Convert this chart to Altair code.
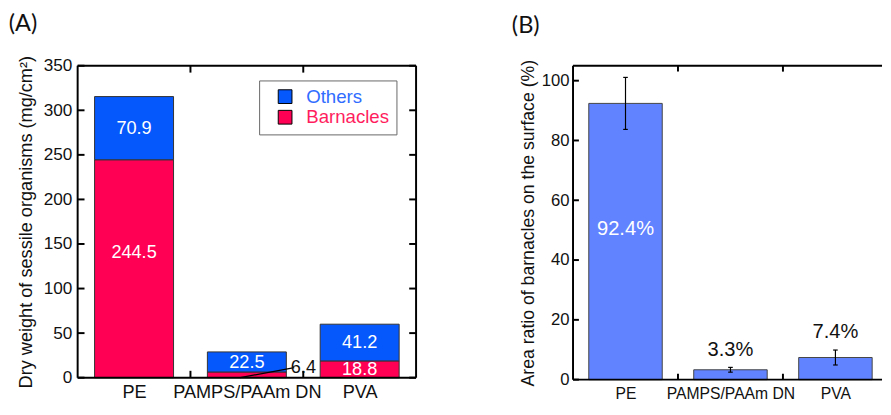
import json
import altair as alt
import pandas as pd

# ---------------- data ----------------
materials = ["PE", "PAMPS/PAAm DN", "PVA"]
barnacles = [244.5, 6.4, 18.8]
others = [70.9, 22.5, 41.2]
area_ratio = [92.4, 3.3, 7.4]
area_err = [8.7, 0.8, 2.5]
weight_ticks = [0, 50, 100, 150, 200, 250, 300, 350]
ratio_ticks = [0, 20, 40, 60, 80, 100]
boundaries = [0.5, 1.5]
groups = ["Others", "Barnacles"]

FONT = "Liberation Sans"
BLUE = "#0558fb"
RED = "#ff0055"
BBLUE = "#6283ff"
INK = "#111111"

pos = list(range(len(materials)))
label_expr = json.dumps(materials) + "[datum.value]"

rows = []
for i, m in enumerate(materials):
    rows.append({"pos": i, "material": m, "group": "Barnacles",
                 "value": barnacles[i], "start": 0.0, "end": barnacles[i]})
    rows.append({"pos": i, "material": m, "group": "Others",
                 "value": others[i], "start": barnacles[i], "end": barnacles[i] + others[i]})
dfA = pd.DataFrame(rows)
dfB = pd.DataFrame({"pos": pos, "material": materials, "ratio": area_ratio, "err": area_err})
dfWT = pd.DataFrame({"t": weight_ticks})
dfRT = pd.DataFrame({"t": ratio_ticks})
dfBd = pd.DataFrame({"b": boundaries})

# ---------------- shared axes ----------------
def x_axis(fs, pad):
    return alt.Axis(values=pos, labelExpr=label_expr, title=None, ticks=False,
                    domain=False, grid=False, labelFontSize=fs, labelPadding=pad,
                    labelFlush=False, labelOverlap=False, labelBound=False)

axXA = x_axis(18.5, 5)
axYA = alt.Axis(values=weight_ticks, title="Dry weight of sessile organisms (mg/cm²)",
                ticks=False, domain=False, grid=False, labelFontSize=17.5,
                labelPadding=6, titleFontSize=18.5, titlePadding=8, labelFlush=False)
axXB = x_axis(16, 6)
axYB = alt.Axis(values=ratio_ticks, title="Area ratio of barnacles on the surface (%)",
                ticks=False, domain=False, grid=False, labelFontSize=17,
                labelPadding=4, titleFontSize=18, titlePadding=4, labelFlush=False)

def yticks(df, scale, axis, w, length, right=True):
    out = [alt.Chart(df).mark_rule(color="black", strokeWidth=2).encode(
        y=alt.Y("t:Q", scale=scale, axis=axis), x=alt.value(0), x2=alt.value(length))]
    if right:
        out.append(alt.Chart(df).mark_rule(color="black", strokeWidth=2).encode(
            y=alt.Y("t:Q", scale=scale, axis=axis), x=alt.value(w - length), x2=alt.value(w)))
    return out

def xticks(scale, axis, h, length):
    top = alt.Chart(dfBd).mark_rule(color="black", strokeWidth=2).encode(
        x=alt.X("b:Q", scale=scale, axis=axis), y=alt.value(0), y2=alt.value(length))
    bot = alt.Chart(dfBd).mark_rule(color="black", strokeWidth=2).encode(
        x=alt.X("b:Q", scale=scale, axis=axis), y=alt.value(h - length), y2=alt.value(h))
    return [top, bot]

def frame(w, h, right=True):
    src = alt.Chart(dfBd.head(1))
    parts = [
        src.mark_rule(color="black", strokeWidth=2).encode(x=alt.value(0), x2=alt.value(w), y=alt.value(0)),
        src.mark_rule(color="black", strokeWidth=2).encode(x=alt.value(0), x2=alt.value(w), y=alt.value(h)),
        src.mark_rule(color="black", strokeWidth=2).encode(x=alt.value(0), y=alt.value(0), y2=alt.value(h)),
    ]
    if right:
        parts.append(src.mark_rule(color="black", strokeWidth=2).encode(
            x=alt.value(w), y=alt.value(0), y2=alt.value(h)))
    return parts

# ---------------- panel A ----------------
WA, HA = 345, 318
xA = alt.Scale(domain=[-0.5, 2.5], nice=False, zero=False)
yA = alt.Scale(domain=[0, 350], nice=False, zero=False)

baseA = alt.Chart(dfA).transform_calculate(
    x0="datum.pos - 0.35", x1="datum.pos + 0.35", mid="datum.start + datum.value / 2"
)

barsA = baseA.mark_bar(stroke="#333333", strokeWidth=1).encode(
    x=alt.X("x0:Q", scale=xA, axis=axXA),
    x2="x1:Q",
    y=alt.Y("start:Q", scale=yA, axis=axYA),
    y2="end:Q",
    color=alt.Color("group:N", scale=alt.Scale(domain=groups, range=[BLUE, RED]),
                    legend=alt.Legend(
                        title=None, orient="none", legendX=185, legendY=15,
                        direction="vertical",
                        strokeColor="#666666", fillColor="white", padding=7,
                        symbolType="square", symbolSize=196, symbolStrokeColor="black",
                        symbolStrokeWidth=1, symbolOffset=10, labelOffset=12,
                        labelFontSize=19, labelFont=FONT, rowPadding=1,
                        labelColor=alt.ExprRef(expr="datum.label === 'Others' ? '#2f6cff' : '#ff1d5e'"))),
)

def txtA(data, **kw):
    return data.mark_text(font=FONT, fontSize=18.5, baseline="middle", **kw)

txt_others = txtA(baseA.transform_filter("datum.group === 'Others'"), color="white").encode(
    x=alt.X("pos:Q", scale=xA, axis=axXA), y=alt.Y("mid:Q", scale=yA, axis=axYA),
    text=alt.Text("value:Q", format=".1f"))

txt_barn_mid = txtA(baseA.transform_filter(
    "datum.group === 'Barnacles' && datum.value > 10 && datum.value < 100"), color="white").encode(
    x=alt.X("pos:Q", scale=xA, axis=axXA), y=alt.Y("mid:Q", scale=yA, axis=axYA),
    text=alt.Text("value:Q", format=".1f"))

txt_barn_big = txtA(baseA.transform_filter(
    "datum.group === 'Barnacles' && datum.value >= 100"), color="white", dy=-17).encode(
    x=alt.X("pos:Q", scale=xA, axis=axXA), y=alt.Y("mid:Q", scale=yA, axis=axYA),
    text=alt.Text("value:Q", format=".1f"))

small = baseA.transform_filter("datum.group === 'Barnacles' && datum.value <= 10").transform_calculate(
    lx="datum.pos + 0.39", ly="datum.value + 6",
    lx0="datum.pos - 0.06", ly0="0", lx1="datum.pos + 0.42", ly1="datum.value + 5")

leader = small.mark_rule(color="black", strokeWidth=1.3).encode(
    x=alt.X("lx0:Q", scale=xA, axis=axXA), y=alt.Y("ly0:Q", scale=yA, axis=axYA),
    x2="lx1:Q", y2="ly1:Q")
txt_small = txtA(small, color=INK, align="left").encode(
    x=alt.X("lx:Q", scale=xA, axis=axXA), y=alt.Y("ly:Q", scale=yA, axis=axYA),
    text=alt.Text("value:Q", format=".1f"))

panelA = alt.layer(
    barsA, txt_others, txt_barn_mid, txt_barn_big, leader, txt_small,
    *yticks(dfWT, yA, axYA, WA, 7), *xticks(xA, axXA, HA, 7), *frame(WA, HA)
).properties(
    width=WA, height=HA,
    title=alt.TitleParams("(A)", anchor="start", frame="bounds", font="Lato", fontSize=24,
                          fontWeight="normal", color=INK, offset=20, dx=-8),
)

# ---------------- panel B ----------------
# the reference crops panel B at the right edge of the picture
STEP_B = 107
WB, HB = 315, 320
xB = alt.Scale(domain=[-0.5, -0.5 + WB / STEP_B], nice=False, zero=False)
yB = alt.Scale(domain=[0, 105], nice=False, zero=False)

baseB = alt.Chart(dfB).transform_calculate(
    x0="datum.pos - 0.35", x1="datum.pos + 0.35", base="0",
    lo="datum.ratio - datum.err", hi="datum.ratio + datum.err",
    c0="datum.pos - 0.022", c1="datum.pos + 0.022", half="datum.ratio / 2",
    label="format(datum.ratio, '.1f') + '%'")

barsB = baseB.mark_bar(color=BBLUE, stroke="#444444", strokeWidth=1).encode(
    x=alt.X("x0:Q", scale=xB, axis=axXB), x2="x1:Q",
    y=alt.Y("ratio:Q", scale=yB, axis=axYB), y2="base:Q",
)

err_v = baseB.mark_rule(color="black", strokeWidth=1.2).encode(
    x=alt.X("pos:Q", scale=xB, axis=axXB), y=alt.Y("lo:Q", scale=yB, axis=axYB), y2="hi:Q")
err_lo = baseB.mark_rule(color="black", strokeWidth=1.2).encode(
    x=alt.X("c0:Q", scale=xB, axis=axXB), x2="c1:Q", y=alt.Y("lo:Q", scale=yB, axis=axYB))
err_hi = baseB.mark_rule(color="black", strokeWidth=1.2).encode(
    x=alt.X("c0:Q", scale=xB, axis=axXB), x2="c1:Q", y=alt.Y("hi:Q", scale=yB, axis=axYB))

txt_big = baseB.transform_filter("datum.ratio > 50").mark_text(
    color="white", fontSize=20.5, font=FONT, baseline="middle", dy=-13).encode(
    x=alt.X("pos:Q", scale=xB, axis=axXB), y=alt.Y("half:Q", scale=yB, axis=axYB),
    text=alt.Text("label:N"))
txt_sm = baseB.transform_filter("datum.ratio <= 50").mark_text(
    color=INK, fontSize=20.5, font=FONT, baseline="bottom", dy=-8).encode(
    x=alt.X("pos:Q", scale=xB, axis=axXB), y=alt.Y("hi:Q", scale=yB, axis=axYB),
    text=alt.Text("label:N"))

panelB = alt.layer(
    barsB, err_v, err_lo, err_hi, txt_big, txt_sm,
    *yticks(dfRT, yB, axYB, WB, 6, right=False), *xticks(xB, axXB, HB, 6),
    *frame(WB, HB, right=False)
).properties(
    width=WB, height=HB,
    title=alt.TitleParams("(B)", anchor="start", frame="bounds", font="Lato", fontSize=24,
                          fontWeight="normal", color=INK, offset=22, dx=-8),
)

chart = alt.hconcat(panelA, panelB, spacing=96).properties(
    padding={"left": 0, "top": 0, "right": 0, "bottom": 0}
).configure_view(
    strokeWidth=0
).configure_axis(
    labelFont=FONT, titleFont=FONT, labelColor=INK, titleColor=INK, titleFontWeight="normal"
).configure_legend(
    labelFont=FONT
)

chart.save("out.html", embed_options={"renderer": "svg", "actions": False})
